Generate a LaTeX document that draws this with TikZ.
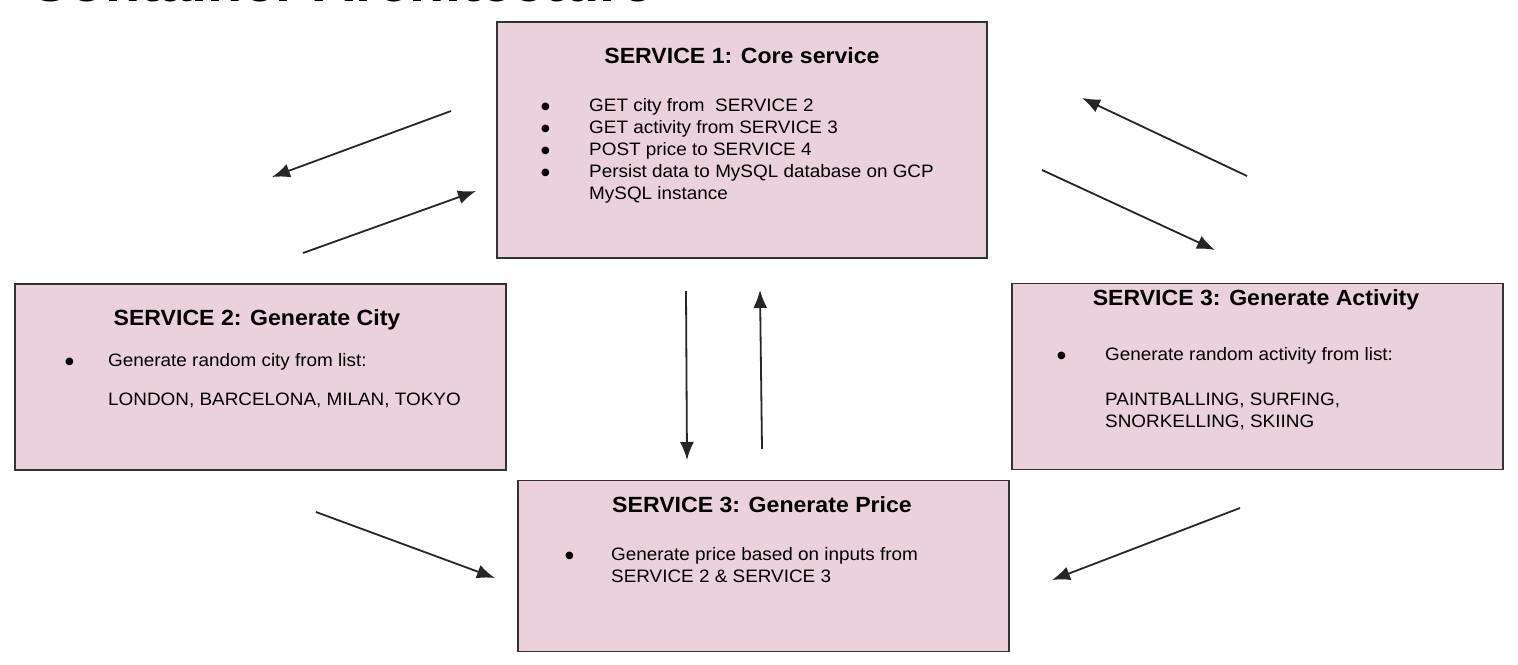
\documentclass[tikz,border=0pt]{standalone}
\usepackage{fontspec}
\setmainfont{Liberation Sans}[FakeStretch=1.05]
\newfontfamily\dotfont{DejaVu Sans}
\usetikzlibrary{arrows.meta}
\definecolor{pinkbox}{HTML}{EAD1DC}
\newcommand{\dotbullet}{\raisebox{2pt}{\dotfont\fontsize{10}{10}\selectfont ●}}
\begin{document}
\begin{tikzpicture}
  [x=1pt,y=-1pt,every node/.style={font=\fontsize{18}{22}\selectfont},
   >={Latex[length=18pt,width=14pt]}]
  \tikzstyle{service} = [draw=black!80,line width=1.3pt,fill=pinkbox,inner sep=0pt]
  \tikzstyle{heading} = [anchor=base,inner sep=0pt,font=\bfseries\fontsize{22}{26}\selectfont]
  \tikzstyle{items} = [anchor=base west,inner sep=0pt]
  \tikzstyle{link} = [->,line width=1.8pt,color=black!85]
  \useasboundingbox (0,0) rectangle (1518,664);
  % cut title
  \node[anchor=base west,inner sep=0pt,font=\bfseries\fontsize{55}{64}\selectfont] (title) at (28,1.5) {Container Architecture};
  % services
  \node[service,minimum width=490pt,minimum height=236pt] (s1) at (742,140) {};
  \node[service,minimum width=491pt,minimum height=186pt] (s2) at (260.5,377) {};
  \node[service,minimum width=491pt,minimum height=186pt] (s3) at (1257.5,376.5) {};
  \node[service,minimum width=491pt,minimum height=171pt] (s4) at (763.5,566) {};
  \node[heading] (h1) at (742,63)   {SERVICE 1: Core service};
  \node[heading] (h2) at (257,325)  {SERVICE 2: Generate City};
  \node[heading] (h3) at (1256,305) {SERVICE 3: Generate Activity};
  \node[heading] (h4) at (762,512)  {SERVICE 3: Generate Price};
  \node[items] (l1) at (541,111) {\begin{tabular}[t]{@{}p{48pt}@{}l@{}}
    \dotbullet & GET city from\ \ SERVICE 2\\
    \dotbullet & GET activity from SERVICE 3\\
    \dotbullet & POST price to SERVICE 4\\
    \dotbullet & Persist data to MySQL database on GCP\\
               & MySQL instance
  \end{tabular}};
  \node[items] (l2) at (65,366) {\begin{tabular}[t]{@{}p{43pt}@{}l@{}}
    \dotbullet & Generate random city from list:\\[17pt]
               & LONDON, BARCELONA, MILAN, TOKYO
  \end{tabular}};
  \node[items] (l3) at (1057,360) {\begin{tabular}[t]{@{}p{48pt}@{}l@{}}
    \dotbullet & Generate random activity from list:\\[23pt]
               & PAINTBALLING, SURFING,\\
               & SNORKELLING, SKIING
  \end{tabular}};
  \node[items] (l4) at (565,560) {\begin{tabular}[t]{@{}p{46pt}@{}l@{}}
    \dotbullet & Generate price based on inputs from\\
               & SERVICE 2 \& SERVICE 3
  \end{tabular}};
  % arrow ends
  \coordinate (a1) at (451,111);  \coordinate (b1) at (272,177);
  \coordinate (a2) at (303,253);  \coordinate (b2) at (476,191);
  \coordinate (a3) at (1247,176); \coordinate (b3) at (1082,98);
  \coordinate (a4) at (1042,170); \coordinate (b4) at (1215,250);
  \coordinate (a5) at (686,291);  \coordinate (b5) at (687,460);
  \coordinate (a6) at (762,449);  \coordinate (b6) at (760,290);
  \coordinate (a7) at (316,512);  \coordinate (b7) at (495,578);
  \coordinate (a8) at (1240,508); \coordinate (b8) at (1052,580);
  \foreach \source /\dest in {a1/b1,a2/b2,a3/b3,a4/b4,a5/b5,a6/b6,a7/b7,a8/b8}
   \draw[link] (\source) -- (\dest);
\end{tikzpicture}
\end{document}
